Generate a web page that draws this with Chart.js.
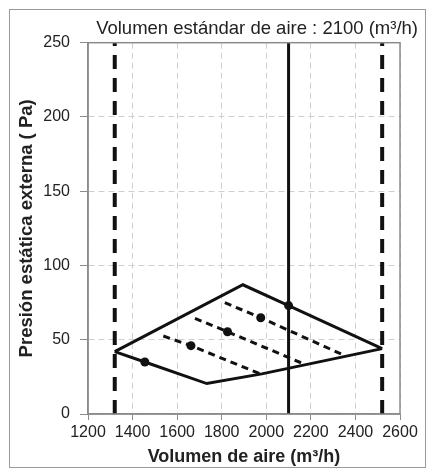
<!DOCTYPE html>
<html lang="es">
<head>
  <meta charset="UTF-8">
  <title>Presión estática externa</title>
  <script src="https://cdn.jsdelivr.net/npm/chart.js"></script>
  <style>
    body { margin: 0; background: #fff; }
    #frame { position: absolute; left: 9px; top: 9px; width: 415px; height: 457px; border: 1px solid #9a9a9a; }
    #chart { position: absolute; left: 0; top: 0; }
  </style>
</head>
<body>
  <div id="frame"></div>
  <canvas id="chart" width="433" height="472"></canvas>

  <script>
    // outer envelope of the operating range
    const upperX = [1320, 1895, 2100, 2520];
    const upperY = [42, 87, 73, 44];
    const lowerX = [1320, 1455, 1733, 1980, 2520];
    const lowerY = [42, 35, 20.5, 27, 44];

    // dashed curves (start, marked point, end)
    const dash1X = [1538, 1662, 1978];
    const dash1Y = [52.5, 46, 26.7];
    const dash2X = [1680, 1826, 2172];
    const dash2Y = [64.4, 55.4, 33.5];
    const dash3X = [1814, 1975, 2336];
    const dash3Y = [75, 64.8, 40.4];

    // vertical limits and standard volume
    const minVolume = 1320;
    const maxVolume = 2520;
    const stdVolume = 2100;

    const xTicks = [1200, 1400, 1600, 1800, 2000, 2200, 2400, 2600];
    const yTicks = [0, 50, 100, 150, 200, 250];

    const FONT = "'Liberation Sans', Arial, sans-serif";
    const INK = '#111';
    const AXIS = '#8c8c8c';

    const pts = (xs, ys) => xs.map((x, i) => ({ x: x, y: ys[i] }));
    const vline = x => [{ x: x, y: yTicks[0] }, { x: x, y: yTicks[yTicks.length - 1] }];

    function lineSet(data, radii, dash, width) {
      return {
        data: data,
        showLine: true,
        borderColor: INK,
        backgroundColor: INK,
        borderWidth: width,
        borderDash: dash,
        pointRadius: radii,
        pointHoverRadius: radii,
        pointBorderWidth: 0,
        tension: 0,
        clip: false
      };
    }

    // frame around the plot area (top and right sides)
    const plotFrame = {
      id: 'plotFrame',
      afterDatasetsDraw(chart) {
        const a = chart.chartArea;
        const ctx = chart.ctx;
        ctx.save();
        ctx.strokeStyle = AXIS;
        ctx.lineWidth = 1.5;
        ctx.strokeRect(a.left, a.top, a.right - a.left, a.bottom - a.top);
        ctx.restore();
      }
    };

    new Chart(document.getElementById('chart'), {
      type: 'scatter',
      data: {
        datasets: [
          lineSet(vline(minVolume), 0, [14, 9], 4),
          lineSet(vline(maxVolume), 0, [14, 9], 4),
          lineSet(vline(stdVolume), 0, [], 3),
          lineSet(pts(upperX, upperY), [0, 0, 4.5, 0], [], 3),
          lineSet(pts(lowerX, lowerY), [0, 4.5, 0, 0, 0], [], 3),
          lineSet(pts(dash1X, dash1Y), [0, 4.5, 0], [7, 5], 3),
          lineSet(pts(dash2X, dash2Y), [0, 4.5, 0], [7, 5], 3),
          lineSet(pts(dash3X, dash3Y), [0, 4.5, 0], [7, 5], 3)
        ]
      },
      options: {
        responsive: false,
        animation: false,
        layout: { padding: { left: 0, right: 15, top: 0, bottom: 0 } },
        plugins: {
          legend: { display: false },
          tooltip: { enabled: false },
          title: {
            display: true,
            text: 'Volumen estándar de aire : 2100 (m³/h)',
            align: 'end',
            color: '#222',
            font: { family: FONT, size: 18.5, weight: 'normal' },
            padding: { top: 18, bottom: 2.5 }
          }
        },
        scales: {
          x: {
            type: 'linear',
            min: xTicks[0],
            max: xTicks[xTicks.length - 1],
            afterBuildTicks: s => { s.ticks = xTicks.map(v => ({ value: v })); },
            afterFit: s => { s.height = 58; },
            ticks: { color: '#222', font: { family: FONT, size: 16 }, padding: 3, maxRotation: 0, callback: v => String(v) },
            grid: { color: '#cfcfcf', lineWidth: 1, tickLength: 6, tickColor: AXIS, tickBorderDash: [] },
            border: { color: AXIS, width: 1.5, dash: [6, 4] },
            title: {
              display: true,
              text: 'Volumen de aire (m³/h)',
              color: '#222',
              font: { family: FONT, size: 18, weight: 'bold' },
              padding: { top: 0, bottom: 4 }
            }
          },
          y: {
            type: 'linear',
            min: yTicks[0],
            max: yTicks[yTicks.length - 1],
            afterBuildTicks: s => { s.ticks = yTicks.map(v => ({ value: v })); },
            afterFit: s => { s.width = 88; },
            ticks: { color: '#222', font: { family: FONT, size: 16 }, padding: 10, callback: v => String(v) },
            grid: { color: '#cfcfcf', lineWidth: 1, tickLength: 8, tickColor: AXIS, tickBorderDash: [] },
            border: { color: AXIS, width: 1.5, dash: [6, 4] },
            title: {
              display: true,
              text: 'Presión estática externa ( Pa)',
              color: '#222',
              font: { family: FONT, size: 18.5, weight: 'bold' },
              padding: { top: 16, bottom: 0 }
            }
          },
          y2: {
            type: 'linear',
            position: 'right',
            afterFit: s => { s.width = 18; },
            ticks: { display: false },
            grid: { display: false },
            border: { display: false }
          }
        }
      },
      plugins: [plotFrame]
    });
  </script>
</body>
</html>
